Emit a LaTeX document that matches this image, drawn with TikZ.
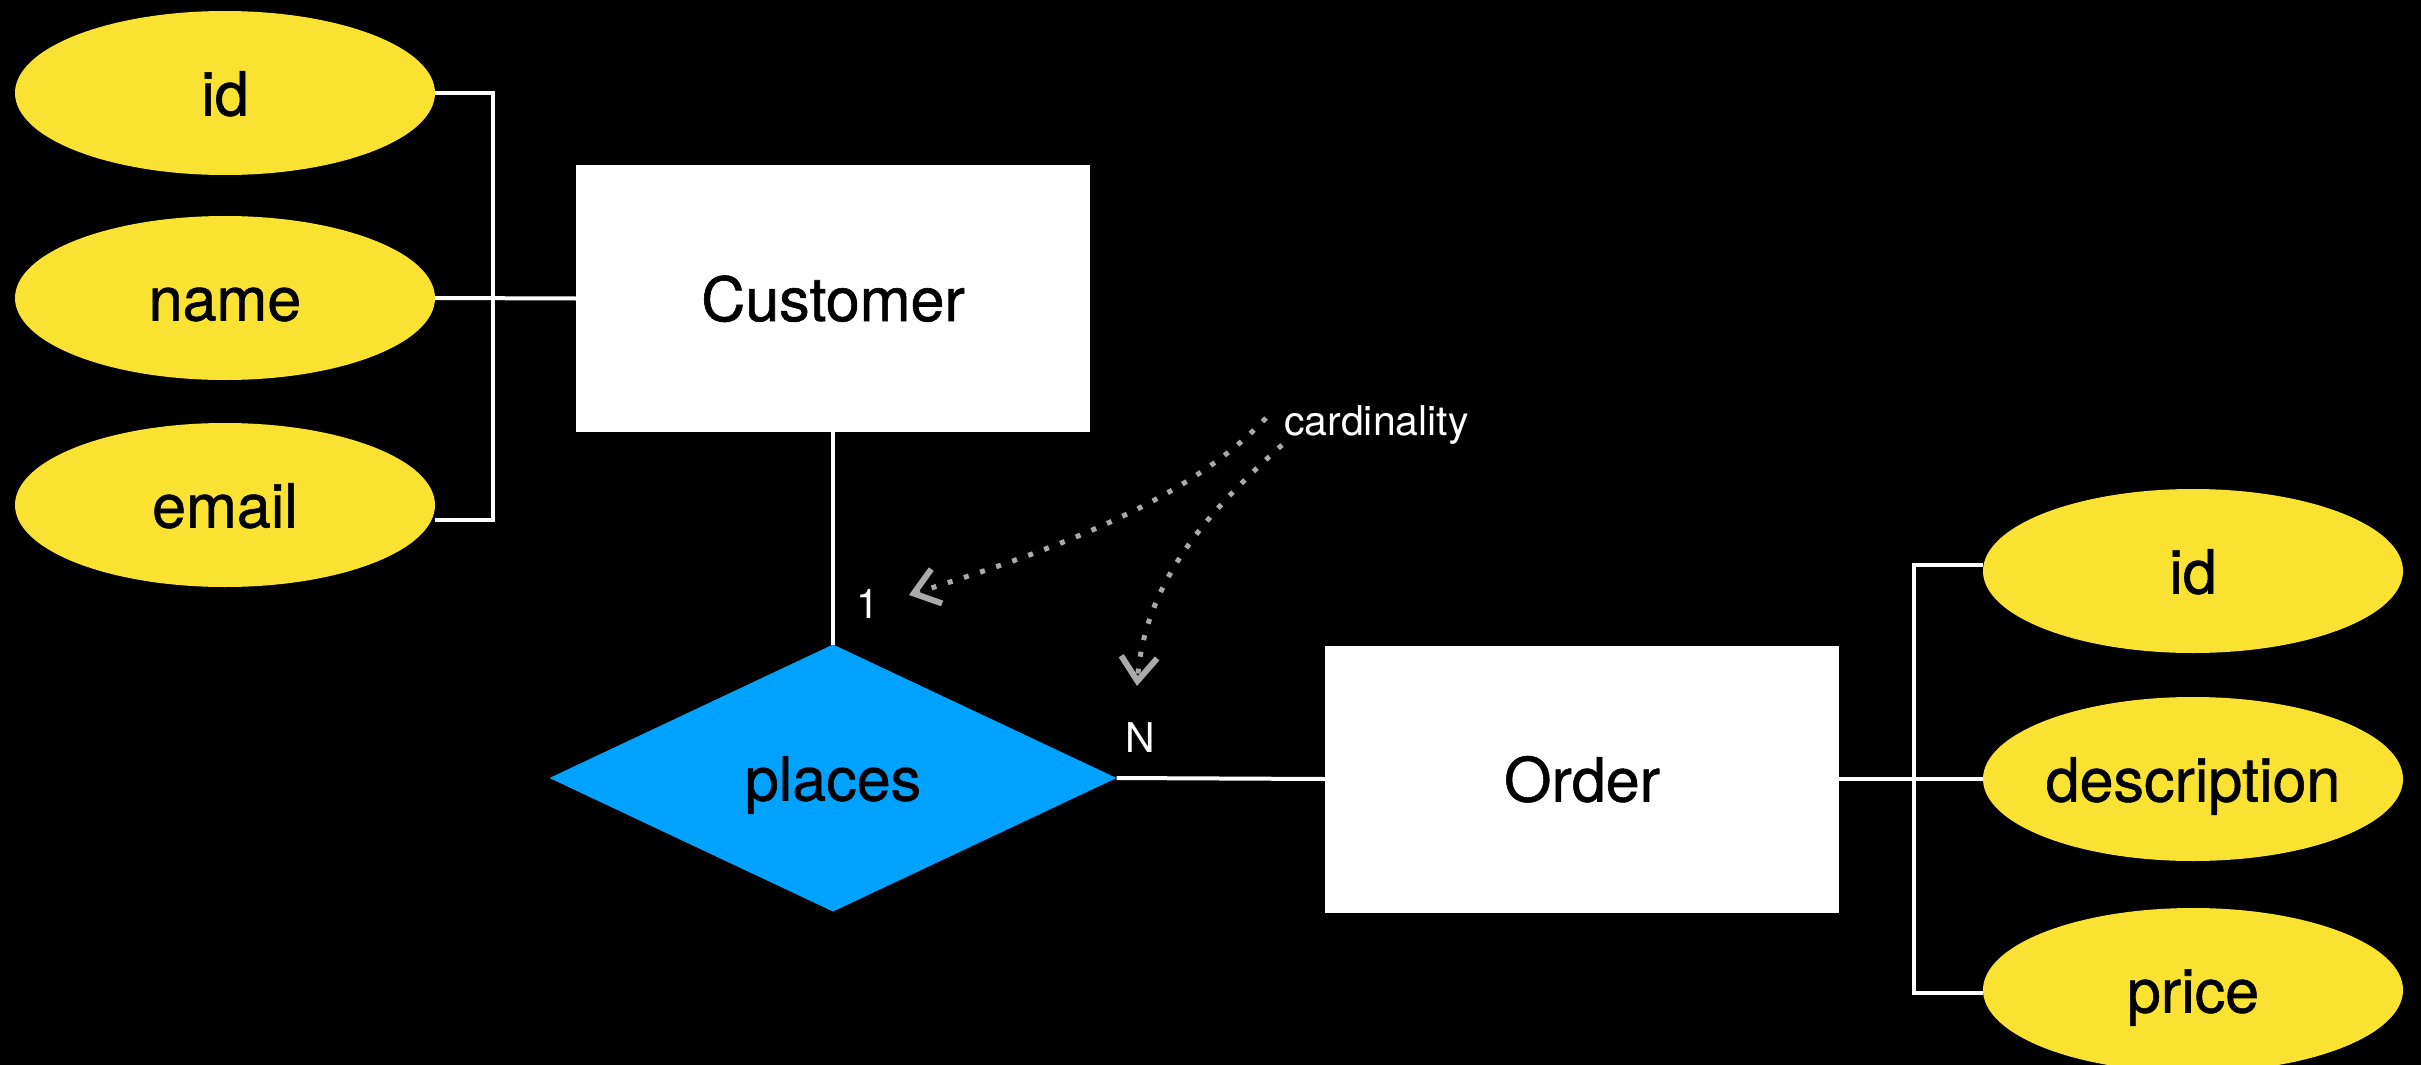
\documentclass[tikz,border=0pt]{standalone}
\usepackage{fontspec}
\setmainfont{TeX Gyre Heros}
\newfontfamily\heavyfont[FakeBold=0.9]{TeX Gyre Heros}
\usetikzlibrary{shapes.geometric,arrows.meta,calc}
\definecolor{attryellow}{RGB}{249,226,50}
\definecolor{relblue}{RGB}{0,162,255}
\definecolor{notegray}{RGB}{170,170,170}
\begin{document}
\begin{tikzpicture}[x=1pt,y=-1pt,
  bigtext/.style={font=\heavyfont\fontsize{61}{72}\selectfont, text height=45pt, text depth=0pt},
  attr/.style={ellipse, fill=attryellow, minimum width=420pt, minimum height=164pt,
    inner sep=0pt, outer sep=0pt, bigtext},
  entity/.style={rectangle, fill=white, minimum width=514pt, minimum height=267pt,
    inner sep=0pt, outer sep=0pt, bigtext},
  relation/.style={diamond, fill=relblue, aspect=2.124, minimum width=567pt,
    minimum height=267pt, inner sep=0pt, outer sep=0pt, bigtext},
  conn/.style={draw=white, line width=4pt},
  small/.style={text=white, inner sep=0pt, font=\fontsize{41}{48}\selectfont},
  note/.style={draw=notegray, line width=5pt, dash pattern=on 5pt off 12pt,
    -{Straight Barb[length=24pt, width=36pt, line width=6pt]}}
]
\fill[black] (0,0) rectangle (2421,1065);
\path[use as bounding box] (0,0) rectangle (2421,1065);

% left attributes
\node[attr] (lid)    at (225,93)  {id};
\node[attr] (lname)  at (225,298) {name};
\node[attr] (lemail) at (225,505) {email};

% entities and relation
\node[entity] (cust)   at (833,298.5) {Customer};
\node[relation] (places) at (833,778) {places};
\node[entity] (order)  at (1582,779) {Order};

% right attributes
\node[attr] (oid)    at (2193,571) {id};
\node[attr] (odesc)  at (2193,779) {description};
\node[attr] (oprice) at (2193,990) {price};

% cardinality labels
\node[small, anchor=base] (one) at (868,618) {1};
\node[small, anchor=base] (nn)  at (1140,752) {N};
\node[small, anchor=base west] (card) at (1284,435) {cardinality};

% connectors
\coordinate (lbus) at (493,300);
\coordinate (rbus) at (1914,779);
\draw[conn] (lid.east) -| (lbus) |- ($(lemail.east)+(0,15)$);
\draw[conn] (lname.east) -- (cust.west);
\draw[conn] (cust.south) -- (places.north);
\draw[conn] (places.east) -- (order.west);
\draw[conn] ($(oid.west)+(0,-6)$) -| (rbus) |- ($(oprice.west)+(0,3)$);
\draw[conn] (order.east) -- (odesc.west);

% note arrows
\coordinate (s1) at ($(card.base west)+(-18,-17)$);
\coordinate (s2) at ($(card.base west)+(-2,10)$);
\coordinate (e1) at ($(one.base)+(41,-23)$);
\coordinate (e2) at ($(nn.base)+(-3,-66)$);
\draw[note] (s1) .. controls (1180,510) and (1020,560) .. (e1);
\draw[note] (s2) .. controls (1210,510) and (1145,580) .. (e2);
\end{tikzpicture}
\end{document}
